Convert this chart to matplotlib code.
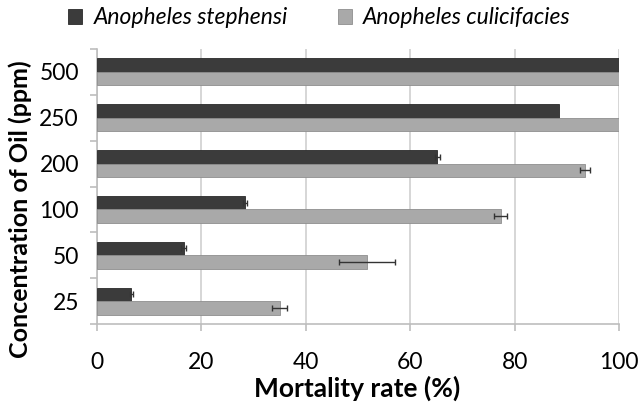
import matplotlib
matplotlib.use("Agg")
import matplotlib.pyplot as plt
import numpy as np

concentrations = ["25", "50", "100", "200", "250", "500"]
stephensi = [6.6, 16.6, 28.4, 65.2, 88.6, 100.0]
stephensi_err = [0.3, 0.5, 0.4, 0.5, 0.0, 0.0]
culicifacies = [35.0, 51.7, 77.3, 93.5, 100.0, 100.0]
culicifacies_err = [1.4, 5.3, 1.3, 1.0, 0.0, 0.0]
xticks = [0, 20, 40, 60, 80, 100]

plt.rcParams["font.family"] = ["Lato", "DejaVu Sans"]

W, H = 639, 404
fig = plt.figure(figsize=(W / 100, H / 100), dpi=100)
ax = fig.add_axes([97 / W, 1 - 324 / H, (619 - 97) / W, (324 - 49) / H])

y = np.arange(len(concentrations))
h = 0.295
dark = "#3b3b3b"
light = "#a9a9a9"

ax.barh(y + h / 2, stephensi, height=h, color=dark, edgecolor="#2a2a2a",
        linewidth=0.6, zorder=3, label="Anopheles stephensi")
ax.barh(y - h / 2, culicifacies, height=h, color=light, edgecolor="#8e8e8e",
        linewidth=0.6, zorder=3, label="Anopheles culicifacies")


def draw_errors(values, errors, ypos):
    vals = np.asarray(values)
    errs = np.asarray(errors)
    keep = errs > 0
    ax.errorbar(vals[keep], ypos[keep], xerr=errs[keep], fmt="none",
                ecolor="#333333", elinewidth=1, capsize=2, capthick=1, zorder=4)


draw_errors(stephensi, stephensi_err, y + h / 2)
draw_errors(culicifacies, culicifacies_err, y - h / 2)

ax.set_xlim(0, 100)
ax.set_ylim(-0.5, len(concentrations) - 0.5)
ax.set_xticks(xticks)
ax.set_xticklabels([str(t) for t in xticks], fontsize=16.5)
ax.set_yticks(y)
ax.set_yticklabels(concentrations, fontsize=16.5)
ax.set_yticks(np.arange(-0.5, len(concentrations) - 0.4, 1), minor=True)

ax.grid(axis="x", color="#cfcfcf", linewidth=1.2, zorder=0)
ax.spines["top"].set_visible(False)
ax.spines["right"].set_visible(False)
ax.spines["left"].set_color("#bdbdbd")
ax.spines["bottom"].set_color("#bdbdbd")
ax.spines["left"].set_linewidth(1.2)
ax.spines["bottom"].set_linewidth(1.2)

ax.tick_params(axis="y", which="major", length=0, pad=13)
ax.tick_params(axis="y", which="minor", length=5, color="#bdbdbd", width=1.2)
ax.tick_params(axis="x", which="major", length=5, color="#bdbdbd", width=1.2,
               pad=15)

ax.set_xlabel("Mortality rate (%)", fontsize=19, fontweight="bold")
ax.xaxis.set_label_coords((357 - 97) / (619 - 97), -(397 - 324) / (324 - 49),
                          transform=ax.transAxes)
ax.xaxis.label.set_va("baseline")
ax.set_ylabel("Concentration of Oil (ppm)", fontsize=18, fontweight="bold")
ax.yaxis.set_label_coords(-(97 - 20) / (619 - 97), 0.5 - (209 - 186.5) / (324 - 49),
                          transform=ax.transAxes)
ax.yaxis.label.set_va("center")

handles, labels = ax.get_legend_handles_labels()
fig.legend(handles, labels, loc="center", bbox_to_anchor=(0.5, 1 - 18 / H),
           ncol=2, frameon=False, prop={"size": 16.5, "style": "italic"},
           handlelength=0.6, handleheight=0.6, handletextpad=0.5,
           columnspacing=2.2)

fig.savefig("out.png", dpi=100)
